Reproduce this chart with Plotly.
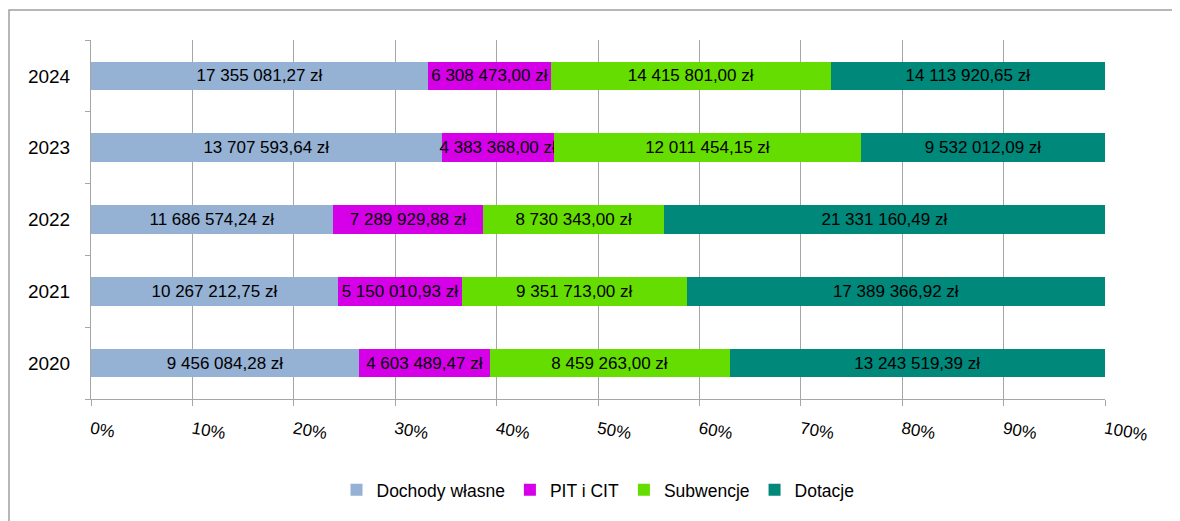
import plotly.graph_objects as go

years = ["2020", "2021", "2022", "2023", "2024"]
series_names = ["Dochody własne", "PIT i CIT", "Subwencje", "Dotacje"]
dochody = [9456084.28, 10267212.75, 11686574.24, 13707593.64, 17355081.27]
pit_cit = [4603489.47, 5150010.93, 7289929.88, 4383368.00, 6308473.00]
subwencje = [8459263.00, 9351713.00, 8730343.00, 12011454.15, 14415801.00]
dotacje = [13243519.39, 17389366.92, 21331160.49, 9532012.09, 14113920.65]
tick_vals = [0, 10, 20, 30, 40, 50, 60, 70, 80, 90, 100]
tick_text = ["0%", "10%", "20%", "30%", "40%", "50%", "60%", "70%", "80%", "90%", "100%"]

colors = ["#95B1D3", "#D600E8", "#66DD00", "#00887A"]


def fmt(v):
    s = f"{v:,.2f}".replace(",", " ").replace(".", ",")
    return s + " zł"


fig = go.Figure()
for name, vals, col in zip(series_names, [dochody, pit_cit, subwencje, dotacje], colors):
    fig.add_trace(go.Bar(
        y=years, x=vals, name=name, orientation="h",
        marker=dict(color=col, line=dict(width=0)),
        text=[fmt(v) for v in vals],
        textposition="inside", insidetextanchor="middle",
        constraintext="none",
        textfont=dict(color="black", size=17, family="Liberation Sans"),
        hoverinfo="skip",
    ))

W, H = 1172, 513
L, T, PW, PH = 83, 32, 1014, 359

fig.update_layout(
    barmode="stack", barnorm="percent", bargap=0.6,
    width=W, height=H,
    margin=dict(l=L, r=W - L - PW, t=T, b=H - T - PH),
    paper_bgcolor="white", plot_bgcolor="white",
    font=dict(family="Liberation Sans", color="black"),
    legend=dict(orientation="h", x=0.5, xanchor="center", y=-0.253, yanchor="middle",
                font=dict(size=17.5), traceorder="normal", itemwidth=30),
    showlegend=True,
    xaxis=dict(range=[0, 100], tickvals=tick_vals, ticktext=tick_text,
               tickangle=10, tickfont=dict(size=17),
               showgrid=True, gridcolor="#A6A6A6", gridwidth=1,
               showline=True, linecolor="#A6A6A6", linewidth=1,
               ticks="outside", ticklen=6, tickcolor="#A6A6A6",
               ticklabelstandoff=7, zeroline=False, fixedrange=True),
    yaxis=dict(categoryorder="array", categoryarray=years, tickfont=dict(size=19),
               showline=True, linecolor="#A6A6A6", linewidth=1,
               ticks="outside", ticklen=5, tickcolor="#A6A6A6", tickson="boundaries",
               ticklabelstandoff=16, showgrid=False, fixedrange=True),
    shapes=[dict(type="rect", xref="paper", yref="paper",
                 x0=(1 - L) / PW, x1=1.3, y0=-0.5, y1=(T + PH - 2) / PH,
                 line=dict(color="#A0A0A0", width=1.5), layer="below")],
)

fig.write_html("out.html")
